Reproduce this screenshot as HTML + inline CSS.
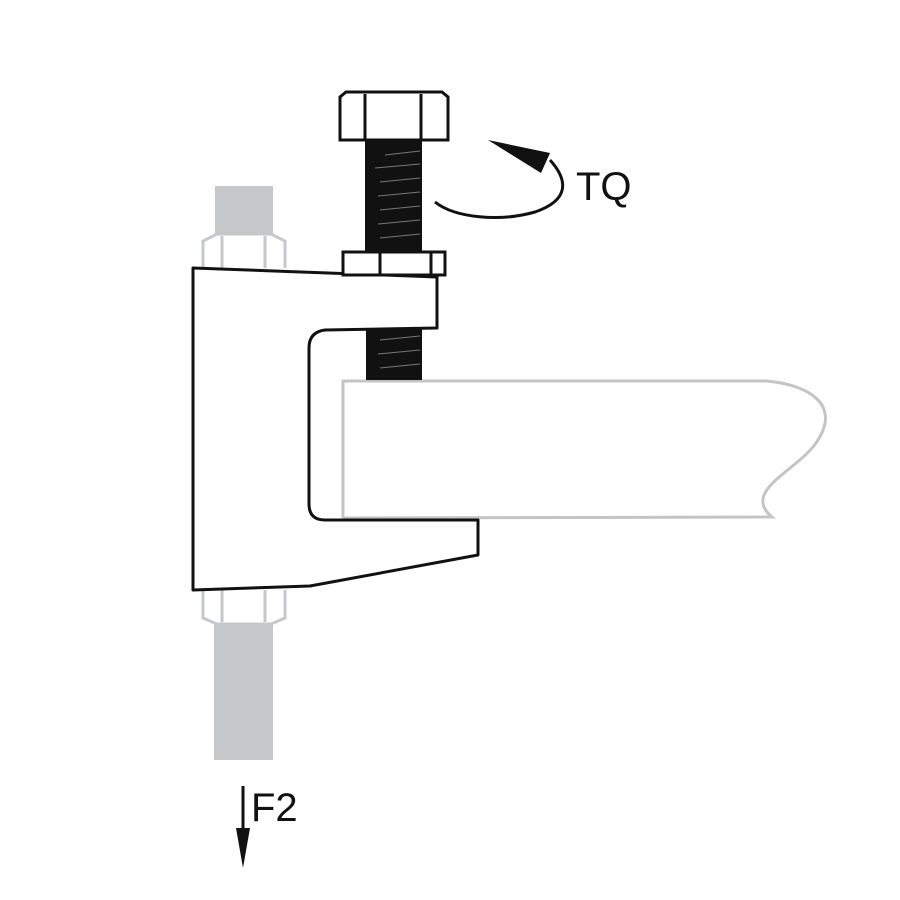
<!DOCTYPE html>
<html><head><style>html,body{margin:0;padding:0;background:#fff}svg{display:block}</style></head>
<body>
<svg width="900" height="900" viewBox="0 0 900 900" xmlns="http://www.w3.org/2000/svg">
<rect width="900" height="900" fill="#fff"/>
<!-- beam -->
<path d="M343,518 L343,381 L767,381 C810,385 840,405 818,440 C800,470 740,490 772,517 L343,518" fill="#fff" stroke="#c4c4c4" stroke-width="3"/>
<!-- gray rod top -->
<rect x="215" y="186" width="58" height="48" fill="#c6c7c9"/>
<path d="M203,268 L203,241 L217,234 L271,234 L285,241 L285,268 M222,236 L222,268 M265,236 L265,268" fill="none" stroke="#c6c7c9" stroke-width="3"/>
<!-- gray rod bottom -->
<path d="M203,590 L203,618 L217,624 L271,624 L285,618 L285,590 M222,590 L222,622 M265,590 L265,622" fill="none" stroke="#c6c7c9" stroke-width="3"/>
<rect x="214" y="624" width="59" height="136" fill="#c6c7c9"/>
<!-- bolt shank -->
<rect x="365" y="140" width="57" height="112" fill="#111"/>
<rect x="366" y="328" width="56" height="52" fill="#111"/>
<g stroke="#777" stroke-width="1">
<line x1="385" y1="155" x2="420" y2="151"/><line x1="375" y1="168" x2="420" y2="164"/><line x1="380" y1="182" x2="420" y2="178"/><line x1="378" y1="196" x2="420" y2="192"/><line x1="380" y1="210" x2="420" y2="206"/><line x1="378" y1="224" x2="420" y2="220"/><line x1="380" y1="238" x2="420" y2="234"/>
<line x1="380" y1="340" x2="420" y2="336"/><line x1="378" y1="354" x2="420" y2="350"/><line x1="380" y1="368" x2="420" y2="364"/>
</g>
<!-- bolt head -->
<path d="M340,140 L340,97 L346,92 L442,92 L448,97 L448,140 Z M365,94 L365,140 M421,94 L421,140" fill="#fff" stroke="#111" stroke-width="3"/>
<!-- clamp body -->
<path d="M193,268 L437,277 L437,328 L325,330 Q309,332 309,348 L309,504 Q309,520 325,520 L478,520 L478,555 L310,586 L193,590 Z" fill="#fff" stroke="#111" stroke-width="3" stroke-linejoin="round"/>
<!-- nut -->
<path d="M343,252 L445,252 L445,275 L343,275 Z M380,252 L380,275 M431,252 L431,275" fill="#fff" stroke="#111" stroke-width="3"/>
<!-- TQ arrow -->
<path d="M435,202 C455,218 500,222 535,212 C570,200 568,180 550,160" fill="none" stroke="#111" stroke-width="3"/>
<path d="M488,140 L550,153 L541,173 Z" fill="#111"/>
<text x="576" y="200" font-family="Liberation Sans, sans-serif" font-size="40" fill="#111">TQ</text>
<!-- F2 arrow -->
<line x1="243" y1="786" x2="243" y2="832" stroke="#111" stroke-width="3"/>
<path d="M236,828 L250,828 L243,868 Z" fill="#111"/>
<text x="251" y="821" font-family="Liberation Sans, sans-serif" font-size="40" fill="#111">F2</text>
</svg>
</body></html>
